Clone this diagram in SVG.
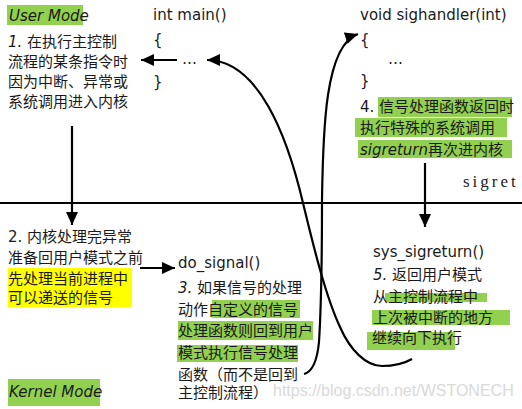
<svg xmlns="http://www.w3.org/2000/svg" width="522" height="409" viewBox="0 0 522 409">
<style>
text{font-family:"DejaVu Sans","Noto Sans CJK SC",sans-serif;font-size:15px;fill:#1a1a1a}
.it{font-style:italic}
.g{fill:#92d050}
.y{fill:#ffff00}
.ln{stroke:#000;stroke-width:2.2;fill:none}
.wm{font-family:"Liberation Sans",Arial,sans-serif;font-size:16px;fill:#d9d9d9}
.mono{font-family:"Liberation Serif","Times New Roman",serif;font-size:17px;letter-spacing:3px;fill:#222}
</style>
<defs>
<marker id="ah" markerUnits="userSpaceOnUse" markerWidth="13" markerHeight="12" refX="13" refY="6" orient="auto">
<path d="M0,0 L13,6 L0,12 z" fill="#000"/>
</marker>
</defs>
<rect width="522" height="409" fill="#fff"/>
<text class="wm" x="273" y="396">https://blog.csdn.net/WSTONECH</text>

<g id="user-mode">
<rect class="g" x="7" y="5" width="76" height="20"/>
<text class="it" x="9" y="21">User Mode</text>
</g>
<g id="kernel-mode">
<rect class="g" x="8" y="379" width="92" height="27"/>
<text class="it" x="9" y="397">Kernel Mode</text>
</g>

<g id="step1">
<text x="8" y="47"><tspan class="it">1.</tspan> 在执行主控制</text>
<text x="8" y="67">流程的某条指令时</text>
<text x="8" y="87">因为中断、异常或</text>
<text x="8" y="107">系统调用进入内核</text>
</g>

<g id="main">
<text x="153" y="20">int main()</text>
<text x="153" y="45">{</text>
<text x="182" y="64">…</text>
<text x="153" y="87">}</text>
</g>

<g id="sighandler">
<text x="360" y="20">void sighandler(int)</text>
<text x="360" y="45">{</text>
<text x="388" y="64">…</text>
<text x="360" y="86">}</text>
</g>

<g id="step4">
<rect class="g" x="378" y="97" width="134" height="20"/>
<rect class="g" x="355" y="118" width="152" height="19"/>
<rect class="g" x="358" y="140" width="154" height="18"/>
<text x="360" y="112">4. 信号处理函数返回时</text>
<text x="360" y="133">执行特殊的系统调用</text>
<text x="360" y="155"><tspan class="it">sigreturn</tspan>再次进内核</text>
</g>
<text class="mono" x="463" y="187">sigret</text>

<g id="step2">
<rect class="y" x="8" y="268" width="124" height="39"/>
<text x="8" y="242">2. 内核处理完异常</text>
<text x="8" y="263">准备回用户模式之前</text>
<text x="8" y="284">先处理当前进程中</text>
<text x="8" y="303">可以递送的信号</text>
</g>

<g id="do-signal">
<rect class="g" x="212" y="300" width="88" height="18"/>
<rect class="g" x="178" y="321" width="135" height="19"/>
<rect class="g" x="177" y="345" width="121" height="17"/>
<text x="178" y="268">do_signal()</text>
<text x="178" y="293"><tspan class="it">3.</tspan> 如果信号的处理</text>
<text x="178" y="315">动作自定义的信号</text>
<text x="178" y="336">处理函数则回到用户</text>
<text x="178" y="358">模式执行信号处理</text>
<text x="178" y="380">函数（而不是回到</text>
<text x="178" y="398">主控制流程）</text>
</g>

<g id="sys-sigreturn">
<rect class="g" x="385" y="293" width="102" height="9"/>
<rect class="g" x="372" y="310" width="138" height="15"/>
<rect class="g" x="367" y="332" width="88" height="18"/>
<text x="373" y="257">sys_sigreturn()</text>
<text x="373" y="280"><tspan class="it">5.</tspan> 返回用户模式</text>
<text x="373" y="302">从主控制流程中</text>
<text x="373" y="323">上次被中断的地方</text>
<text x="372" y="343">继续向下执行</text>
</g>

<g id="connectors">
<line class="ln" x1="0" y1="203" x2="522" y2="203" stroke-width="2.5"/>
<line class="ln" x1="72" y1="126" x2="72" y2="225" marker-end="url(#ah)"/>
<line class="ln" x1="425" y1="163" x2="425" y2="227" marker-end="url(#ah)"/>
<line class="ln" x1="140" y1="268" x2="175" y2="268" marker-end="url(#ah)"/>
<line class="ln" x1="177" y1="60" x2="141" y2="60" marker-end="url(#ah)"/>
<path class="ln" d="M 412 359 C 405 363 395 366 382 366 C 366 366 350 350 340 327 C 325 295 312 240 303 203 C 287 135 258 60 207 60" marker-end="url(#ah)"/>
<path class="ln" d="M 304 374 C 312 372 317 362 319 342 C 321 310 322 250 322 200 C 323 130 325 45 358 34" marker-end="url(#ah)"/>
</g>
</svg>
